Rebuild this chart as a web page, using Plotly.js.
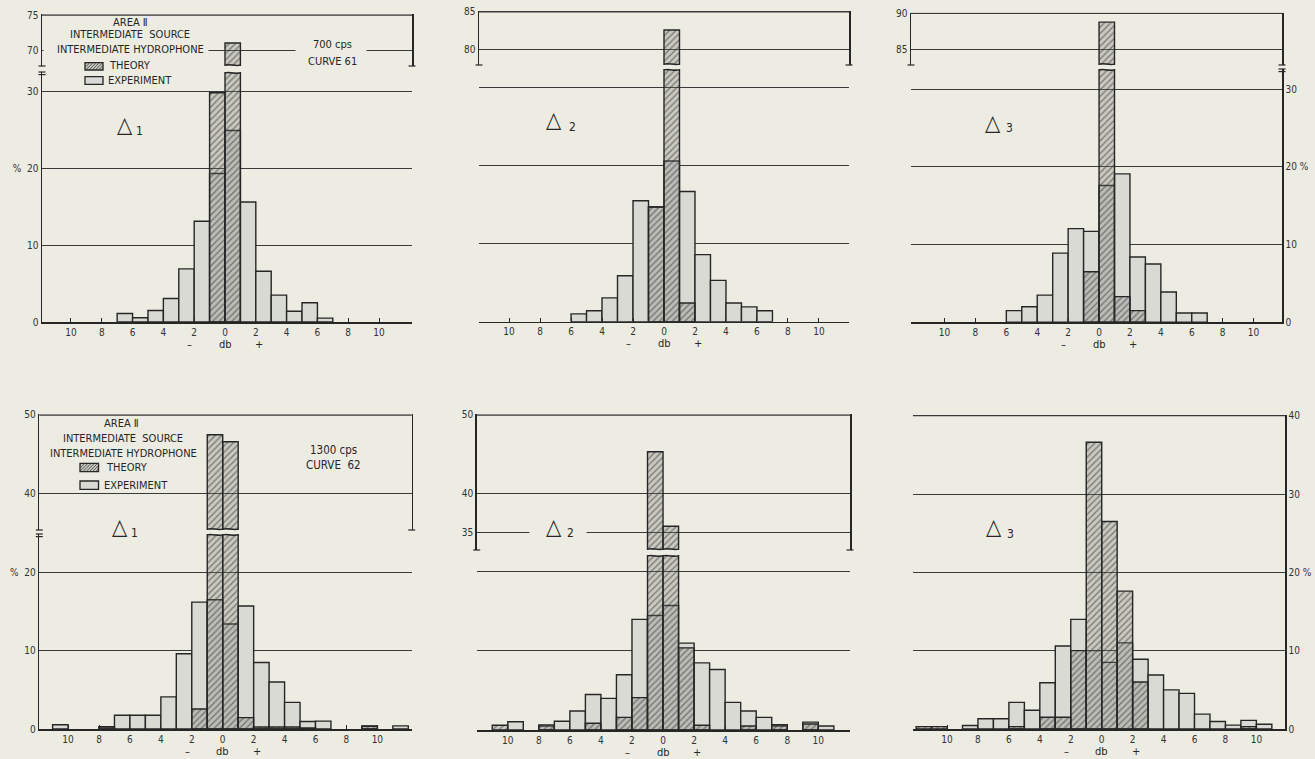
<!DOCTYPE html>
<html><head><meta charset="utf-8">
<script src="https://cdn.plot.ly/plotly-3.0.1.min.js"></script>
<style>html,body{margin:0;padding:0;background:#edece2;}#chart{width:1315px;height:759px;}</style>
</head><body><div id="chart"></div>
<script>
// ---------- DATA (percent of observations per 1-db bin) ----------
const BIN_LEFT = [-12,-11,-10,-9,-8,-7,-6,-5,-4,-3,-2,-1,0,1,2,3,4,5,6,7,8,9,10,11];
const DB_TICKS = [-10,-8,-6,-4,-2,0,2,4,6,8,10];
const DB_LABELS = ['10','8','6','4','2','0','2','4','6','8','10'];

const EXP_700_D1  = [0,0,0,0,0,1.1,0.55,1.5,3.05,6.9,13.1,19.3,24.9,15.6,6.6,3.5,1.4,2.5,0.5,0,0,0,0,0];
const TH_700_D1   = [0,0,0,0,0,0,0,0,0,0,0,29.8,71.1,0,0,0,0,0,0,0,0,0,0,0];
const EXP_700_D2  = [0,0,0,0,0,0,1.0,1.4,3.05,5.9,15.5,14.7,20.6,16.7,8.6,5.3,2.4,1.9,1.4,0,0,0,0,0];
const TH_700_D2   = [0,0,0,0,0,0,0,0,0,0,0,14.7,82.6,2.4,0,0,0,0,0,0,0,0,0,0];
const EXP_700_D3  = [0,0,0,0,0,0,1.5,2.0,3.5,8.9,12.05,11.7,17.6,19.1,8.4,7.5,3.9,1.2,1.2,0,0,0,0,0];
const TH_700_D3   = [0,0,0,0,0,0,0,0,0,0,0,6.5,88.8,3.3,1.5,0,0,0,0,0,0,0,0,0];
const EXP_1300_D1 = [0,0.55,0,0,0.3,1.75,1.75,1.75,4.1,9.6,16.2,16.5,13.4,15.7,8.5,6.0,3.4,0.95,1.0,0,0,0.4,0,0.4];
const TH_1300_D1  = [0,0,0,0,0.25,0,0,0,0,0,2.55,47.5,46.6,1.45,0.25,0.25,0.25,0.15,0,0,0,0.35,0,0];
const EXP_1300_D2 = [0,0,1.05,0,0.5,1.1,2.4,4.5,4.0,7.0,14.0,14.5,15.75,11.0,8.5,7.65,3.5,2.4,1.6,0.5,0,1.0,0.5,0];
const TH_1300_D2  = [0,0.6,0,0,0.65,0,0,0.85,0,1.6,4.1,45.3,35.8,10.4,0.6,0,0,0.5,0,0.67,0,0.75,0,0];
const EXP_1300_D3 = [0,0,0,0.45,1.3,1.3,3.4,2.4,5.9,10.6,14.0,10.0,8.5,11.0,8.9,6.9,5.0,4.55,1.9,0.95,0.5,1.1,0.6,0];
const TH_1300_D3  = [0.3,0.3,0,0,0,0,0.3,0,1.5,1.5,10.0,36.6,26.5,17.6,6.0,0,0,0,0,0,0,0.3,0,0];

// ---------- STYLE / LAYOUT ----------
const W = 1315, H = 759;
const PAPER = '#edece2', INK = '#262626', EXP_FILL = '#dadad5';
const TH_BG = 'rgba(120,120,112,0.30)';
const FONT = 'DejaVu Sans Condensed, DejaVu Sans, sans-serif';
const fx = p => p / W, fy = p => 1 - p / H;
const BIN_MID = BIN_LEFT.map(b => b + 0.5);

const PANELS = [
  {exp: EXP_700_D1, th: TH_700_D1, xr: [-11.88, 12.14], xpx: [42, 412],
   low: {px: [72, 322], range: [0, 32.5], ticks: [0,10,20,30], labels: ['0','10','%  20','30'], show: true, side: 'left', line: true},
   up: {px: [14.3, 66], range: [67.9, 75.1], ticks: [70,75], labels: ['70','75']}},
  {exp: EXP_700_D2, th: TH_700_D2, xr: [-11.94, 11.94], xpx: [479, 849],
   low: {px: [69, 321.7], range: [0, 32.4], ticks: [10,20,30], labels: ['10','20','30'], show: false, side: 'left', line: false},
   up: {px: [11.0, 65], range: [78.0, 85.1], ticks: [80,85], labels: ['80','85']}},
  {exp: EXP_700_D3, th: TH_700_D3, xr: [-12.17, 11.84], xpx: [911, 1282],
   low: {px: [69, 322.3], range: [0, 32.6], ticks: [0,10,20,30], labels: ['0','10','20 %','30'], show: true, side: 'right', line: true},
   up: {px: [12.6, 65], range: [82.95, 90.1], ticks: [85,90], labels: ['85','90']}},
  {exp: EXP_1300_D1, th: TH_1300_D1, xr: [-11.86, 12.22], xpx: [39.3, 411.7],
   low: {px: [534, 729], range: [0, 24.9], ticks: [0,10,20], labels: ['0','10','%  20'], show: true, side: 'left', line: true},
   up: {px: [414.2, 530], range: [35.4, 50.1], ticks: [40,50], labels: ['40','50']}},
  {exp: EXP_1300_D2, th: TH_1300_D2, xr: [-12.0, 12.04], xpx: [476.7, 850],
   low: {px: [555, 730], range: [0, 22.15], ticks: [10,20], labels: ['10','20'], show: false, side: 'left', line: false},
   up: {px: [414.2, 550], range: [32.76, 50.1], ticks: [35,40,50], labels: ['35','40','50']}},
  {exp: EXP_1300_D3, th: TH_1300_D3, xr: [-12.2, 11.85], xpx: [913, 1285],
   low: {px: [414.9, 729], range: [0, 40.1], ticks: [0,10,20,30,40], labels: ['0','10','20 %','30','40'], show: true, side: 'right', line: true},
   up: null}
];

const tickfont = {family: FONT, size: 10, color: '#333'};
const nz = a => a.map(v => v > 0 ? v : null);
const axKey = (p, n) => n === 1 ? p + 'axis' : p + 'axis' + n;
const ref = (p, n) => n === 1 ? p : p + n;

const data = [], shapes = [], annotations = [];
const layout = {
  width: W, height: H, margin: {l: 0, r: 0, t: 0, b: 0},
  paper_bgcolor: PAPER, plot_bgcolor: PAPER, barmode: 'overlay', showlegend: false,
  font: {family: FONT, color: INK}
};

function expTrace(p, xr, yr) {
  return {type: 'bar', x: BIN_MID, y: nz(p.exp), width: 1, xaxis: xr, yaxis: yr,
    marker: {color: EXP_FILL, line: {color: INK, width: 1.4}}, hoverinfo: 'skip'};
}
function thTrace(p, xr, yr) {
  return {type: 'bar', x: BIN_MID, y: nz(p.th), width: 1, xaxis: xr, yaxis: yr,
    marker: {color: TH_BG, line: {color: INK, width: 1.4},
      pattern: {shape: '/', fillmode: 'overlay', bgcolor: TH_BG, fgcolor: '#2e2e2e', size: 4.5, solidity: 0.32}},
    hoverinfo: 'skip'};
}
function hl(xpx, ypx, half, w) {
  return {type: 'line', xref: 'paper', yref: 'paper', x0: fx(xpx - half), x1: fx(xpx + half),
    y0: fy(ypx), y1: fy(ypx), line: {color: INK, width: w || 1.2}};
}
function border(p, yref, val) {
  return {type: 'line', xref: 'paper', yref: yref, x0: fx(p.xpx[0]), x1: fx(p.xpx[1]), y0: val, y1: val,
    line: {color: '#3a3a3a', width: 1.3}};
}

let yid = 1;
PANELS.forEach((p, i) => {
  const xn = i + 1, xr = ref('x', xn);
  const lowId = yid++;
  layout[axKey('x', xn)] = {
    domain: [fx(p.xpx[0]), fx(p.xpx[1])], range: p.xr, anchor: ref('y', lowId),
    showline: true, linecolor: INK, linewidth: 1.6, ticks: 'inside', ticklen: 4, tickwidth: 1, tickcolor: INK,
    tickvals: DB_TICKS, ticktext: DB_LABELS, tickfont: tickfont, showgrid: false, zeroline: false, fixedrange: true
  };
  layout[axKey('y', lowId)] = {
    domain: [fy(p.low.px[1]), fy(p.low.px[0])], range: p.low.range, anchor: xr, side: p.low.side,
    showline: p.low.line, linecolor: INK, linewidth: 1.5, tickvals: p.low.ticks, ticktext: p.low.labels,
    showticklabels: p.low.show, ticks: '', tickfont: tickfont, showgrid: true, gridcolor: '#3a3a3a', gridwidth: 1,
    zeroline: false, fixedrange: true
  };
  data.push(expTrace(p, xr, ref('y', lowId)), thTrace(p, xr, ref('y', lowId)));
  const lineX = p.low.side === 'left' ? p.xpx[0] : p.xpx[1];
  if (p.low.line && p.up) {
    shapes.push(hl(lineX, p.low.px[0], 3.5), hl(lineX, p.low.px[0] + 2.6, 3.5));
  }
  if (!p.up) shapes.push(border(p, ref('y', lowId), Math.max(...p.low.ticks)));
  if (p.up) {
    const upId = yid++, upRId = yid++;
    layout[axKey('y', upId)] = {
      domain: [fy(p.up.px[1]), fy(p.up.px[0])], range: p.up.range, anchor: xr, side: 'left',
      showline: true, mirror: true, linecolor: INK, linewidth: 1.5, tickvals: p.up.ticks, ticktext: p.up.labels,
      ticks: '', tickfont: tickfont, showgrid: true, gridcolor: '#3a3a3a', gridwidth: 1, zeroline: false, fixedrange: true
    };
    layout[axKey('y', upRId)] = {
      overlaying: ref('y', upId), range: p.up.range, anchor: xr, side: 'right', showline: false,
      tickvals: p.up.ticks, ticktext: p.up.labels, ticks: '', tickfont: tickfont, showgrid: false, zeroline: false, fixedrange: true
    };
    data.push(thTrace(p, xr, ref('y', upId)));
    shapes.push(border(p, ref('y', upId), Math.max(...p.up.ticks)));
    shapes.push(hl(p.xpx[0], p.up.px[1], 3.5), hl(p.xpx[1], p.up.px[1], 3.5));
    // break marks on bars that run past the lower segment
    p.th.forEach((v, k) => {
      if (v > p.low.range[1]) {
        const e = BIN_LEFT[k];
        [p.low.px[0] + 0.9, p.up.px[1] - 0.9].forEach(ypx => {
          const y = fy(ypx), d = 1.8 / H;
          shapes.push({type: 'path', xref: xr, yref: 'paper', layer: 'above',
            path: `M${e},${y} C${e + 0.33},${y + d} ${e + 0.66},${y - d} ${e + 1},${y}`,
            line: {color: INK, width: 1.5}});
        });
      }
    });
  }
  // "−  db  +" under axis
  const yb = fy(p.low.px[1] + 22);
  [['–', -2.3], ['db', 0], ['+', 2.2]].forEach(([t, xv]) => annotations.push({
    text: t, x: xv, xref: xr, y: yb, yref: 'paper', showarrow: false, xanchor: 'center', yanchor: 'middle',
    font: {family: FONT, size: 11, color: INK}
  }));
});
layout.shapes = shapes;

// gridline gaps behind lettering
function mask(cx, cy, w, h) {
  return {text: ' ', x: fx(cx), y: fy(cy), xref: 'paper', yref: 'paper', width: w, height: h,
    bgcolor: PAPER, borderpad: 0, showarrow: false, xanchor: 'center', yanchor: 'middle'};
}
annotations.unshift(mask(126, 50, 164, 6), mask(331, 50, 70, 6), mask(558, 532.5, 56, 6));

function txt(t, cx, cy, size, anchor) {
  annotations.push({text: t, x: fx(cx), y: fy(cy), xref: 'paper', yref: 'paper', showarrow: false,
    xanchor: anchor || 'center', yanchor: 'middle', font: {family: FONT, size: size, color: INK}});
}
// panel 1 lettering
txt('AREA Ⅱ', 130, 23, 11);
txt('INTERMEDIATE  SOURCE', 130, 34.5, 11);
txt('INTERMEDIATE HYDROPHONE', 130, 49.5, 11);
txt('THEORY', 107, 66, 11, 'left');
txt('EXPERIMENT', 106, 80.5, 11, 'left');
txt('700 cps', 332, 45, 11);
txt('CURVE 61', 332, 61, 11);
// panel 4 lettering
txt('AREA Ⅱ', 122, 423, 11);
txt('INTERMEDIATE  SOURCE', 123, 439, 11);
txt('INTERMEDIATE HYDROPHONE', 123, 453, 11);
txt('THEORY', 104, 467.5, 11, 'left');
txt('EXPERIMENT', 102, 485.5, 11, 'left');
txt('1300 cps', 333, 450, 11.5);
txt('CURVE  62', 333, 465, 11.5);
// delta markers
[[125, 124, '1', 139, 131], [554, 120, '2', 572, 127], [993, 122, '3', 1009, 128],
 [120, 526, '1', 134, 533], [554, 526, '2', 570, 533], [994, 526, '3', 1011, 534]].forEach(d => {
  txt('△', d[0], d[1], 22);
  txt(d[2], d[3], d[4], 12);
});
layout.annotations = annotations;

// legend boxes (drawn as shapes)
function hatch(x0, y0, x1, y1, step) {
  let d = '';
  for (let c = x0 + y0 + step / 2; c < x1 + y1; c += step) {
    const ax = Math.max(x0, c - y1), bx = Math.min(x1, c - y0);
    if (bx <= ax) continue;
    d += `M${fx(ax)},${fy(c - ax)}L${fx(bx)},${fy(c - bx)}`;
  }
  return d;
}
function rect(x0, y0, x1, y1, fill) {
  return {type: 'rect', xref: 'paper', yref: 'paper', x0: fx(x0), x1: fx(x1), y0: fy(y1), y1: fy(y0),
    fillcolor: fill, line: {color: INK, width: 1.3}, layer: 'above'};
}
[[85, 62.7, 103, 70, 76.7, 84.3], [80, 463.3, 98.5, 471.7, 481, 489.3]].forEach(b => {
  shapes.push(rect(b[0], b[1], b[2], b[3], TH_BG));
  shapes.push({type: 'path', xref: 'paper', yref: 'paper', path: hatch(b[0], b[1], b[2], b[3], 3.2),
    line: {color: '#333', width: 0.8}, layer: 'above'});
  shapes.push(rect(b[0], b[4], b[2], b[5], EXP_FILL));
});

Plotly.newPlot('chart', data, layout, {staticPlot: true, displayModeBar: false});
</script></body></html>
